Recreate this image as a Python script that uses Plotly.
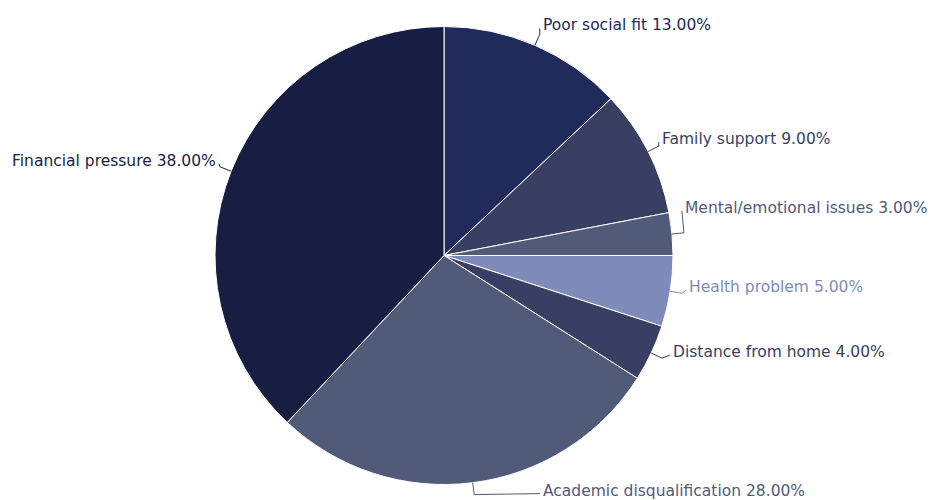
import math
import plotly.graph_objects as go

# ---- data ----
categories = ["Poor social fit", "Family support", "Mental/emotional issues",
              "Health problem", "Distance from home", "Academic disqualification",
              "Financial pressure"]
values = [13, 9, 3, 5, 4, 28, 38]
colors = ["#202a5b", "#383f62", "#525a7a", "#7f8bb9", "#383f62", "#525a7a", "#171e42"]

# ---- layout constants (pixels) ----
W, H = 931, 500
CX, CY, R = 444, 255.5, 229
L1, L2 = 12, 8
# label nudges (dx, dy) in pixels, layout tweak only
nudges = [(-7, -9), (-7, -7), (-9, -25), (-3, -6), (1, -6), (59, -4), (6, -6)]

def px(x):
    return x / W

def py(y):
    return 1 - y / H

fig = go.Figure()
fig.add_trace(go.Pie(
    labels=categories, values=values, sort=False, direction="clockwise", rotation=0,
    marker=dict(colors=colors, line=dict(color="#ffffff", width=1)),
    textinfo="none", hoverinfo="label+percent", showlegend=False,
    domain=dict(x=[px(CX - R), px(CX + R)], y=[py(CY + R), py(CY - R)]),
))

total = sum(values)
cum = 0
shapes = []
annotations = []
for i, (cat, v) in enumerate(zip(categories, values)):
    mid = (cum + v / 2) / total * 2 * math.pi
    cum += v
    s, c = math.sin(mid), math.cos(mid)
    x0, y0 = CX + R * s, CY - R * c
    x1, y1 = CX + (R + L1) * s, CY - (R + L1) * c
    side = 1 if s >= 0 else -1
    dx, dy = nudges[i]
    ax, ay = x1 + side * L2 + dx, y1 + dy
    path = f"M {px(x0)} {py(y0)} L {px(x1)} {py(y1)} L {px(ax - side*1)} {py(ay + 3)}"
    shapes.append(dict(type="path", xref="paper", yref="paper", path=path,
                       line=dict(color=colors[i], width=1)))
    pct = v / total * 100
    annotations.append(dict(
        x=px(ax), y=py(ay), xref="paper", yref="paper", showarrow=False,
        text=f"{cat} {pct:.2f}%", xanchor="left" if side > 0 else "right",
        yanchor="middle", font=dict(family="DejaVu Sans", size=15.5, color=colors[i]),
    ))

fig.update_layout(
    width=W, height=H, margin=dict(l=0, r=0, t=0, b=0),
    paper_bgcolor="#ffffff", plot_bgcolor="#ffffff",
    shapes=shapes, annotations=annotations,
)
fig.write_html("out.html")
